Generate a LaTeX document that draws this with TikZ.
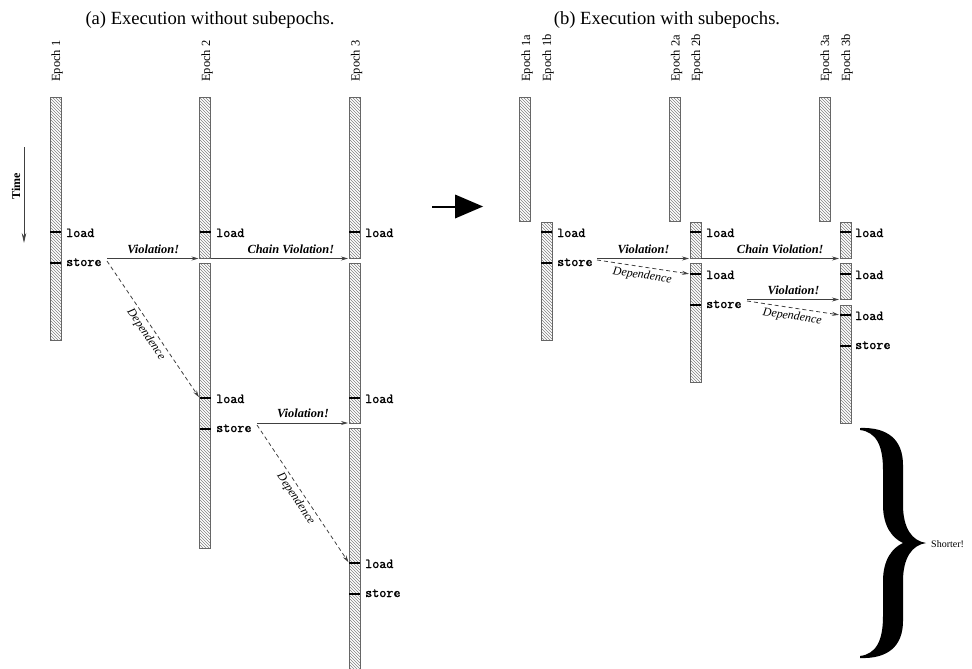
\documentclass[tikz,border=0pt]{standalone}
\usepackage{fontspec}
\setmainfont{Liberation Serif}
\newfontfamily\opfont[FakeBold=1.6]{Latin Modern Mono}
\usetikzlibrary{arrows.meta,patterns}
% a black tick across an epoch bar; the west end is named for dependence arrows
\newcommand\optick[3]{\draw[tick] (#1.west |- 0,#2) coordinate (#3) -- (#1.east |- 0,#2);}
\begin{document}
\begin{tikzpicture}[x=1pt,y=-1pt,
  bar/.style={draw=black!60, line width=0.7pt, pattern=north west lines, pattern color=black!50,
    minimum width=11pt, inner sep=0pt, outer sep=0pt, anchor=north},
  tick/.style={line width=2.2pt, black},
  op/.style={font=\fontsize{13.7}{15}\selectfont\opfont, inner sep=0pt, anchor=base west},
  epochlbl/.style={font=\fontsize{12.5}{14}\selectfont, rotate=90, anchor=west, inner sep=0pt},
  title/.style={font=\fontsize{18.6}{22}\selectfont, inner sep=0pt},
  flow/.style={draw=black!75, line width=0.8pt, -{Stealth[length=7pt,width=4pt]}, shorten >=1pt},
  dep/.style={flow, dash pattern=on 4pt off 3pt},
  vlab/.style={font=\fontsize{12.4}{14}\selectfont\bfseries\itshape, above=4.5pt, inner sep=0pt},
  dlab/.style={font=\fontsize{12}{14}\selectfont\itshape, sloped, midway, anchor=north, inner sep=3pt},
]
\useasboundingbox (0,0) rectangle (972,669);

% ---------- titles ----------
\node[title] (ta) at (210,20) {(a) Execution without subepochs.};
\node[title] (tb) at (667,20) {(b) Execution with subepochs.};

% ---------- time axis ----------
\node[font=\fontsize{12}{14}\selectfont\bfseries, rotate=90, inner sep=0pt] (time) at (16,186.5) {Time};
\coordinate (tstart) at (24,147);
\coordinate (tend) at (24,243);
\draw[black!75, line width=0.8pt, -{Stealth[length=10pt,width=4.5pt]}] (tstart) -- (tend);

% ---------- (a) without subepochs ----------
\node[epochlbl] (le1) at (57,82) {Epoch 1};
\node[epochlbl] (le2) at (207,82) {Epoch 2};
\node[epochlbl] (le3) at (356.5,82) {Epoch 3};

\node[bar, minimum height=243pt]   (e1)  at (55.5,97) {};
\node[bar, minimum height=161.5pt] (e2a) at (205,97) {};
\node[bar, minimum height=285pt]   (e2b) at (205,263) {};
\node[bar, minimum height=161.5pt] (e3a) at (354.5,97) {};
\node[bar, minimum height=160pt]   (e3b) at (354.5,263) {};
\node[bar, minimum height=250pt]   (e3c) at (354.5,428) {};

\optick{e1}{232}{k1}  \node[op] (o1) at (66,237) {load};
\optick{e1}{263}{k2}  \node[op] (o2) at (66,266) {store};
\optick{e2a}{232}{k3} \node[op] (o3) at (216,237) {load};
\optick{e2b}{398}{k4} \node[op] (o4) at (216,403) {load};
\optick{e2b}{429}{k5} \node[op] (o5) at (216,432) {store};
\optick{e3a}{232}{k6} \node[op] (o6) at (365,237) {load};
\optick{e3b}{398}{k7} \node[op] (o7) at (365,403) {load};
\optick{e3c}{563}{k8} \node[op] (o8) at (365,568) {load};
\optick{e3c}{594}{k9} \node[op] (o9) at (365,597) {store};

\coordinate (v1) at (107,258.5);
\coordinate (d1) at (107,261);
\coordinate (v2) at (257,423);
\coordinate (d2) at (257,425);
\draw[flow] (v1) -- (e2a.south west) node[vlab, midway] {Violation!};
\draw[flow] (e2a.south east) -- (e3a.south west) node[vlab, pos=0.58] {Chain Violation!};
\draw[dep] (d1) -- (k4) node[dlab] {Dependence};
\draw[flow] (v2) -- (e3b.south west) node[vlab, midway] {Violation!};
\draw[dep] (d2) -- (k8) node[dlab] {Dependence};

% ---------- arrow between the two executions ----------
\coordinate (ba) at (432,206.5);
\coordinate (bb) at (456,206.5);
\draw[line width=2pt] (ba) -- (bb);
\fill (455,194.5) -- (483,206.5) -- (455,218.5) -- cycle;

% ---------- (b) with subepochs ----------
\node[epochlbl] (lb1a) at (527,82) {Epoch 1a};
\node[epochlbl] (lb1b) at (548,82) {Epoch 1b};
\node[epochlbl] (lb2a) at (676.5,82) {Epoch 2a};
\node[epochlbl] (lb2b) at (697,82) {Epoch 2b};
\node[epochlbl] (lb3a) at (826,82) {Epoch 3a};
\node[epochlbl] (lb3b) at (847,82) {Epoch 3b};

\node[bar, minimum height=124.5pt] (b1a) at (524.5,97) {};
\node[bar, minimum height=118pt]   (b1b) at (546.5,222) {};
\node[bar, minimum height=124.5pt] (b2a) at (675,97) {};
\node[bar, minimum height=36.5pt]  (b2b1) at (695.5,222) {};
\node[bar, minimum height=119pt]   (b2b2) at (695.5,263) {};
\node[bar, minimum height=124.5pt] (b3a) at (824.5,97) {};
\node[bar, minimum height=36.5pt]  (b3b1) at (845.5,222) {};
\node[bar, minimum height=36.5pt]  (b3b2) at (845.5,263) {};
\node[bar, minimum height=118pt]   (b3b3) at (845.5,305) {};

\optick{b1b}{232}{q1}  \node[op] (p1) at (557,237) {load};
\optick{b1b}{263}{q2}  \node[op] (p2) at (557,266) {store};
\optick{b2b1}{232}{q3} \node[op] (p3) at (706,237) {load};
\optick{b2b2}{274}{q4} \node[op] (p4) at (706,279) {load};
\optick{b2b2}{305}{q5} \node[op] (p5) at (706,308) {store};
\optick{b3b1}{232}{q6} \node[op] (p6) at (855,237) {load};
\optick{b3b2}{274}{q7} \node[op] (p7) at (855,279) {load};
\optick{b3b3}{315}{q8} \node[op] (p8) at (855,320) {load};
\optick{b3b3}{346}{q9} \node[op] (p9) at (855,349) {store};

\coordinate (w1) at (597,258.5);
\coordinate (c1) at (597,260);
\coordinate (w2) at (747,299.5);
\coordinate (c2) at (747,301);
\draw[flow] (w1) -- (b2b1.south west) node[vlab, midway] {Violation!};
\draw[dep] (c1) -- (q4) node[dlab] {Dependence};
\draw[flow] (b2b1.south east) -- (b3b1.south west) node[vlab, pos=0.57] {Chain Violation!};
\draw[flow] (w2) -- (b3b2.south west) node[vlab, midway] {Violation!};
\draw[dep] (c2) -- (q8) node[dlab] {Dependence};

% ---------- brace showing the saved time ----------
\fill (860,428) .. controls (888,427) and (903,440) .. (903,465)
  -- (903,505) .. controls (903,528) and (912,541) .. (926,543)
  .. controls (912,545) and (903,558) .. (903,581)
  -- (903,621) .. controls (903,646) and (888,659) .. (860,658)
  -- (860,656) .. controls (876,654) and (883,641) .. (883,616)
  -- (883,581) .. controls (883,560) and (892,548) .. (903,543)
  .. controls (892,538) and (883,526) .. (883,505)
  -- (883,470) .. controls (883,445) and (876,432) .. (860,430) -- cycle;
\node[font=\fontsize{10}{12}\selectfont, anchor=west, inner sep=0pt] (short) at (931,544) {Shorter!};

\end{tikzpicture}
\end{document}
